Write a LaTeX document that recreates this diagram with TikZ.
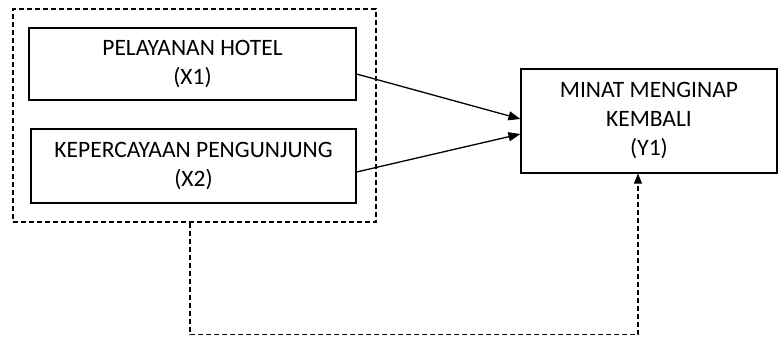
\documentclass[tikz,border=0pt]{standalone}
\usepackage{fontspec}
\setmainfont{Carlito}
\usetikzlibrary{arrows.meta}
\begin{document}
\begin{tikzpicture}[x=1pt,y=-1pt,
  box/.style={draw, line width=1.1pt, align=center, inner sep=0pt,
    font=\fontsize{23.5}{29}\selectfont},
  dashbox/.style={draw, line width=1.1pt, dash pattern=on 5pt off 3pt, inner sep=0pt},
  arr/.style={line width=1.3pt, -{Triangle[length=12pt,width=9pt]}},
  darr/.style={line width=1.1pt, dash pattern=on 5pt off 3pt, -{Triangle[length=10pt,width=8pt]}}]
\useasboundingbox (0,0) rectangle (779,337);
\node[dashbox, minimum width=363pt, minimum height=213pt] (outer) at (194.5,115.5) {};
\node[box, minimum width=327pt, minimum height=72pt] (x1) at (192.5,64) {PELAYANAN HOTEL\\(X1)};
\node[box, minimum width=325pt, minimum height=74pt] (x2) at (193.5,166) {KEPERCAYAAN PENGUNJUNG\\(X2)};
\node[box, minimum width=256pt, minimum height=104pt] (y1) at (649,121) {MINAT MENGINAP\\KEMBALI\\(Y1)};
\draw[arr] ([yshift=-10pt]x1.east) -- ([yshift=2pt]y1.west);
\draw[arr] ([yshift=-6pt]x2.east) -- ([yshift=-13pt]y1.west);
\draw[darr] ([xshift=-4.5pt]outer.south) -- ++(0,112) -| ([xshift=-11pt]y1.south);
\end{tikzpicture}
\end{document}
